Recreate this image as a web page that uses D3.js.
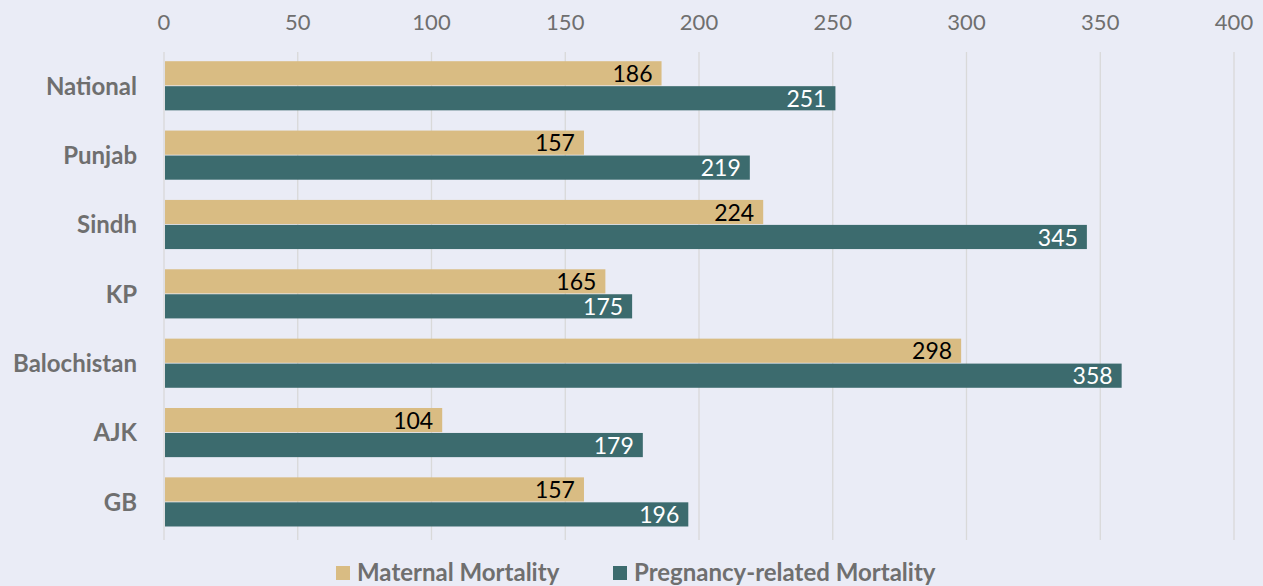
<!DOCTYPE html>
<html>
<head>
<meta charset="utf-8">
<script src="https://cdn.jsdelivr.net/npm/d3@7"></script>
<style>
  body { margin: 0; background: #eaecf6; }
  text { font-family: Lato, "Open Sans", sans-serif; }
</style>
</head>
<body>
<div class="canvas"></div>
<script>
const regions = ["National", "Punjab", "Sindh", "KP", "Balochistan", "AJK", "GB"];
const maternal = [186, 157, 224, 165, 298, 104, 157];
const pregnancy = [251, 219, 345, 175, 358, 179, 196];
const xTicks = [0, 50, 100, 150, 200, 250, 300, 350, 400];
const seriesNames = ["Maternal Mortality", "Pregnancy-related Mortality"];

const tan = "#d9bc83";
const teal = "#3c6b6e";
const grey = "#6f6f6f";

const svg = d3.select('.canvas')
  .append('svg')
  .attr('width', 1263)
  .attr('height', 586)
  .style("background", "#eaecf6");

const x = d3.scaleLinear()
  .domain([0, 400])
  .range([164, 1234]);

const y = d3.scaleBand()
  .domain(regions)
  .range([51.5, 537])
  .paddingInner(0.28)
  .paddingOuter(0.14);

const half = y.bandwidth() / 2;

// vertical gridlines
svg.append('g')
  .selectAll('line')
  .data(xTicks)
  .join('line')
  .attr('x1', d => x(d))
  .attr('x2', d => x(d))
  .attr('y1', 52)
  .attr('y2', 540)
  .attr('stroke', '#d9d9d9')
  .attr('stroke-width', 1.3);

// top tick labels
svg.append('g')
  .selectAll('text')
  .data(xTicks)
  .join('text')
  .attr('x', d => x(d))
  .attr('y', 22)
  .attr('dy', '0.35em')
  .attr('text-anchor', 'middle')
  .attr('font-size', 22)
  .attr('fill', grey)
  .text(d => d);

// category labels
svg.append('g')
  .selectAll('text')
  .data(regions)
  .join('text')
  .attr('x', 137)
  .attr('y', d => y(d) + half)
  .attr('dy', '0.35em')
  .attr('text-anchor', 'end')
  .attr('font-size', 24)
  .attr('font-weight', 'bold')
  .attr('fill', grey)
  .text(d => d);

const series = [
  { values: maternal, color: tan, label: "#000", offset: 0 },
  { values: pregnancy, color: teal, label: "#fff", offset: 1 }
];

series.forEach(s => {
  const g = svg.append('g');
  g.selectAll('rect')
    .data(regions)
    .join('rect')
    .attr('x', x(0) + 1)
    .attr('y', d => y(d) + s.offset * half)
    .attr('width', (d, i) => x(s.values[i]) - x(0) - 1)
    .attr('height', half - 0.8)
    .attr('fill', s.color);

  g.selectAll('text')
    .data(regions)
    .join('text')
    .attr('x', (d, i) => x(s.values[i]) - 9)
    .attr('y', d => y(d) + s.offset * half + half / 2)
    .attr('dy', '0.36em')
    .attr('text-anchor', 'end')
    .attr('font-size', 23)
    .attr('fill', s.label)
    .text((d, i) => s.values[i]);
});

// legend
const legend = svg.append('g');
const legendX = [336, 613];
[tan, teal].forEach((c, i) => {
  legend.append('rect')
    .attr('x', legendX[i])
    .attr('y', 566)
    .attr('width', 14)
    .attr('height', 14)
    .attr('fill', c);
  legend.append('text')
    .attr('x', legendX[i] + 21)
    .attr('y', 573)
    .attr('dy', '0.35em')
    .attr('font-size', 24)
    .attr('font-weight', 'bold')
    .attr('fill', grey)
    .text(seriesNames[i]);
});
</script>
</body>
</html>
